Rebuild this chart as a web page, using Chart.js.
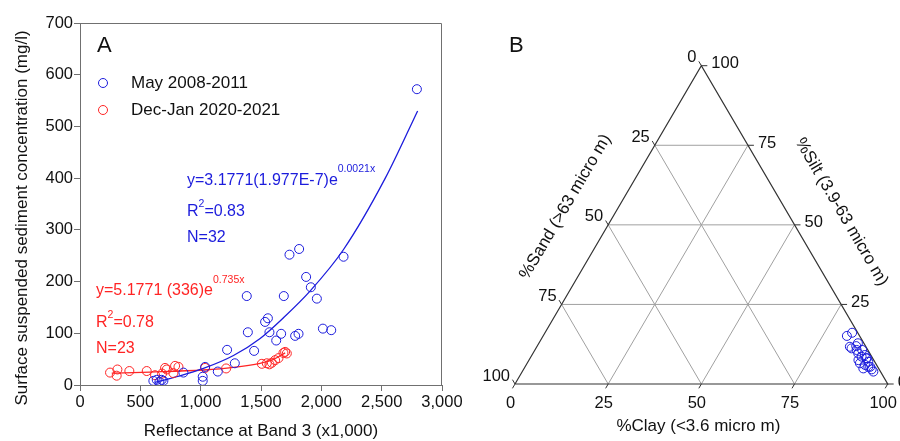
<!DOCTYPE html>
<html>
<head>
<meta charset="utf-8">
<script src="https://cdn.jsdelivr.net/npm/chart.js@4.4.1/dist/chart.umd.min.js"></script>
<style>
  html, body { margin: 0; padding: 0; background: #fff; }
  #wrap { position: relative; width: 900px; height: 441px; overflow: hidden; }
  #chartA { position: absolute; left: 0; top: 0; }
  #chartB { position: absolute; left: 460px; top: 0; }
</style>
</head>
<body>
<div id="wrap">
  <canvas id="chartA" width="470" height="441"></canvas>
  <canvas id="chartB" width="440" height="441"></canvas>
</div>
<script>
// Panel A: reflectance (x) vs sediment concentration (y)
const mayX = [608, 636, 658, 677, 691, 857, 1017, 1017, 1037, 1142, 1219, 1283, 1382, 1391, 1443, 1534,
              1557, 1570, 1626, 1667, 1689, 1736, 1783, 1811, 1816, 1874, 1913, 1963, 2013, 2082, 2184, 2792];
const mayY = [8, 10, 6, 10, 8, 24, 8, 16, 35, 26, 68, 42, 172, 102, 66, 122,
              129, 102, 86, 99, 172, 252, 95, 99, 263, 209, 189, 167, 109, 106, 248, 572];
const decX = [249, 304, 310, 409, 553, 622, 680, 705, 719, 774, 788, 816, 1037, 1211, 1507, 1548,
              1570, 1590, 1617, 1645, 1686, 1700, 1714];
const decY = [24, 18, 30, 27, 27, 19, 22, 33, 30, 23, 37, 35, 33, 32, 41, 42,
              40, 43, 48, 52, 62, 64, 61];
// fitted curves
const mayFitX = [620, 802, 1023, 1272, 1493, 1686, 1908, 2184, 2530, 2798];
const mayFitY = [5, 16, 32, 57, 90, 130, 182, 262, 400, 530];
const decFitX = [263, 581, 1023, 1272, 1493, 1600, 1700];
const decFitY = [23, 25, 29, 34, 42, 49, 62];
const xTicks = [0, 500, 1000, 1500, 2000, 2500, 3000];
const yTicks = [0, 100, 200, 300, 400, 500, 600, 700];

// Panel B: ternary diagram, samples as [clay, silt] percent
const ternaryTicks = [0, 25, 50, 75, 100];
const samples = [[81.5, 15.1], [82.4, 16.1], [84.0, 11.7], [84.7, 11.2], [85.6, 11.9], [85.6, 12.8],
                 [86.3, 10.7], [87.3, 9.6], [87.8, 10.7], [88.4, 7.5], [88.7, 8.6], [89.3, 6.5],
                 [89.3, 9.1], [90.2, 8.1], [90.9, 6.0], [91.0, 4.9], [91.3, 7.0], [90.4, 8.1],
                 [92.1, 5.4], [92.6, 5.4], [93.4, 4.6], [94.2, 3.9]];

const FONT = '"Liberation Sans", Arial, sans-serif';
const BLUE = '#1c1cdc';
const RED = '#ff2424';
const TEXT = '#111';
const AXIS = '#707070';
Chart.defaults.font.family = FONT;
Chart.defaults.color = TEXT;

const pts = (xs, ys) => xs.map((v, i) => ({ x: v, y: ys[i] }));
const commas = v => String(v).replace(/\B(?=(\d{3})+(?!\d))/g, ',');

// draws text pieces in a row, some raised as superscripts
function rich(ctx, parts, x, y, color) {
    ctx.fillStyle = color;
    ctx.textAlign = 'left';
    ctx.textBaseline = 'alphabetic';
    parts.forEach(p => {
        ctx.font = (p.size || 16) + 'px ' + FONT;
        ctx.fillText(p.t, x, y - (p.rise || 0));
        x += ctx.measureText(p.t).width;
    });
}

const textA = {
    id: 'textA',
    afterDraw(chart) {
        const ctx = chart.ctx;
        const a = chart.chartArea;
        ctx.save();
        ctx.strokeStyle = AXIS;
        ctx.lineWidth = 1;
        ctx.beginPath();
        ctx.moveTo(a.left, a.top + 0.5);
        ctx.lineTo(a.right - 0.5, a.top + 0.5);
        ctx.lineTo(a.right - 0.5, a.bottom);
        ctx.stroke();

        ctx.fillStyle = TEXT;
        ctx.font = '22px ' + FONT;
        ctx.fillText('A', 97, 52);

        // legend
        [[BLUE, 'May 2008-2011', 83], [RED, 'Dec-Jan 2020-2021', 110]].forEach(([c, label, yy]) => {
            ctx.strokeStyle = c;
            ctx.beginPath();
            ctx.arc(103, yy, 4.5, 0, Math.PI * 2);
            ctx.stroke();
            ctx.fillStyle = TEXT;
            ctx.font = '17px ' + FONT;
            ctx.textBaseline = 'middle';
            ctx.fillText(label, 131, yy);
        });

        rich(ctx, [{ t: 'y=3.1771(1.977E-7)e' }, { t: '0.0021x', size: 10.5, rise: 13 }], 187, 185, BLUE);
        rich(ctx, [{ t: 'R' }, { t: '2', size: 10.5, rise: 9 }, { t: '=0.83' }], 187, 216, BLUE);
        rich(ctx, [{ t: 'N=32' }], 187, 242, BLUE);
        rich(ctx, [{ t: 'y=5.1771 (336)e' }, { t: '0.735x', size: 10.5, rise: 12 }], 96, 295, RED);
        rich(ctx, [{ t: 'R' }, { t: '2', size: 10.5, rise: 9 }, { t: '=0.78' }], 96, 327, RED);
        rich(ctx, [{ t: 'N=23' }], 96, 353, RED);

        ctx.translate(22, 218);
        ctx.rotate(-Math.PI / 2);
        ctx.fillStyle = TEXT;
        ctx.font = '17px ' + FONT;
        ctx.textAlign = 'center';
        ctx.textBaseline = 'middle';
        ctx.fillText('Surface suspended sediment concentration (mg/l)', 0, 0);
        ctx.restore();
    }
};

const axisStyle = {
    grid: { display: true, drawOnChartArea: false, drawTicks: true, tickLength: 6, color: AXIS },
    border: { display: true, color: AXIS, width: 1 }
};

new Chart(document.getElementById('chartA'), {
    type: 'scatter',
    data: {
        datasets: [
            { data: pts(mayX, mayY), pointRadius: 4.5, pointBorderWidth: 1, borderColor: BLUE, backgroundColor: 'rgba(0,0,0,0)' },
            { data: pts(decX, decY), pointRadius: 4.5, pointBorderWidth: 1, borderColor: RED, backgroundColor: 'rgba(0,0,0,0)' },
            { data: pts(mayFitX, mayFitY), showLine: true, pointRadius: 0, borderWidth: 1.3, borderColor: BLUE, cubicInterpolationMode: 'monotone' },
            { data: pts(decFitX, decFitY), showLine: true, pointRadius: 0, borderWidth: 1.3, borderColor: RED, cubicInterpolationMode: 'monotone' }
        ]
    },
    options: {
        responsive: false,
        animation: false,
        devicePixelRatio: 1,
        layout: { padding: { top: 23, right: 28, left: 0, bottom: 0 } },
        plugins: { legend: { display: false }, tooltip: { enabled: false } },
        scales: {
            x: {
                type: 'linear', min: 0, max: 3000,
                afterBuildTicks: s => { s.ticks = xTicks.map(v => ({ value: v })); },
                ticks: { padding: 2, color: TEXT, font: { size: 16.5 }, maxRotation: 0, callback: v => commas(v) },
                title: { display: true, text: 'Reflectance at Band 3 (x1,000)', color: TEXT, font: { size: 17, lineHeight: 1.1 }, padding: 0 },
                afterFit: s => { s.height = 56; },
                ...axisStyle
            },
            y: {
                type: 'linear', min: 0, max: 700,
                afterBuildTicks: s => { s.ticks = yTicks.map(v => ({ value: v })); },
                ticks: { padding: 1, color: TEXT, font: { size: 16.5 } },
                afterFit: s => { s.width = 80; },
                ...axisStyle
            }
        }
    },
    plugins: [textA]
});

// ternary -> cartesian: x = clay + silt/2, y = silt
const tern = (clay, silt) => ({ x: clay + silt / 2, y: silt });
const gap = { x: 0, y: null };

const gridPts = [];
ternaryTicks.slice(1, -1).forEach(t => {
    gridPts.push(tern(0, t), tern(100 - t, t), gap);           // silt constant
    gridPts.push(tern(t, 0), tern(t, 100 - t), gap);           // clay constant
    gridPts.push(tern(100 - t, 0), tern(0, 100 - t), gap);     // sand constant
});
const outline = [tern(0, 0), tern(100, 0), tern(0, 100), tern(0, 0)];
const tickPts = [];
ternaryTicks.forEach(t => {
    const r = tern(100 - t, t);
    tickPts.push(r, { x: r.x + 1.6, y: r.y }, gap);
    const l = tern(0, 100 - t);
    tickPts.push(l, { x: l.x - 0.68, y: l.y + 1.36 }, gap);
    const b = tern(t, 0);
    tickPts.push(b, { x: b.x - 0.68, y: b.y - 1.36 }, gap);
});

const textB = {
    id: 'textB',
    afterDraw(chart) {
        const { ctx, scales: { x, y } } = chart;
        const px = (c, s) => [x.getPixelForValue(c + s / 2), y.getPixelForValue(s)];
        ctx.save();
        ctx.fillStyle = TEXT;
        ctx.font = '22px ' + FONT;
        ctx.fillText('B', 49, 52);

        ctx.font = '16.5px ' + FONT;
        ctx.textBaseline = 'middle';
        ternaryTicks.forEach(t => {
            let [a, b] = px(0, 100 - t);
            ctx.textAlign = 'right';
            ctx.fillText(String(t), a - 5, b - 8);
            [a, b] = px(100 - t, t);
            ctx.textAlign = 'left';
            ctx.fillText(String(t), a + 10, b - 2);
            [a, b] = px(t, 0);
            ctx.textAlign = 'center';
            ctx.fillText(String(t), a - 4.5, b + 19);
        });

        ctx.font = '17px ' + FONT;
        ctx.textAlign = 'center';
        const [cx, cy] = px(50, 0);
        ctx.fillText('%Clay (<3.6 micro m)', cx - 3, cy + 42);

        const side = (p0, p1, label, out, along) => {
            const dx = p1[0] - p0[0], dy = p1[1] - p0[1];
            const len = Math.hypot(dx, dy);
            const ux = dx / len, uy = dy / len;
            const mx = (p0[0] + p1[0]) / 2 + uy * out + ux * along;
            const my = (p0[1] + p1[1]) / 2 - ux * out + uy * along;
            ctx.save();
            ctx.translate(mx, my);
            ctx.rotate(Math.atan2(uy, ux));
            ctx.fillText(label, 0, 0);
            ctx.restore();
        };
        side(px(0, 0), px(0, 100), '%Sand (>63 micro m)', 46, -6);
        side(px(0, 100), px(100, 0), '%Silt (3.9-63 micro m)', 47, 12.5);
        ctx.restore();
    }
};

new Chart(document.getElementById('chartB'), {
    type: 'scatter',
    data: {
        datasets: [
            { data: samples.map(s => tern(s[0], s[1])), pointRadius: 4.5, pointBorderWidth: 1, borderColor: BLUE, backgroundColor: 'rgba(0,0,0,0)', clip: false },
            { data: outline, showLine: true, pointRadius: 0, borderWidth: 1.2, borderColor: '#333', clip: false },
            { data: tickPts, showLine: true, spanGaps: false, pointRadius: 0, borderWidth: 1, borderColor: '#333', clip: false },
            { data: gridPts, showLine: true, spanGaps: false, pointRadius: 0, borderWidth: 1, borderColor: '#a0a0a0', clip: false }
        ]
    },
    options: {
        responsive: false,
        animation: false,
        devicePixelRatio: 1,
        layout: { padding: { left: 55, right: 12.3, top: 65.7, bottom: 57 } },
        plugins: { legend: { display: false }, tooltip: { enabled: false } },
        scales: {
            x: { type: 'linear', min: 0, max: 100, display: false },
            y: { type: 'linear', min: 0, max: 100, display: false }
        }
    },
    plugins: [textB]
});
</script>
</body>
</html>
